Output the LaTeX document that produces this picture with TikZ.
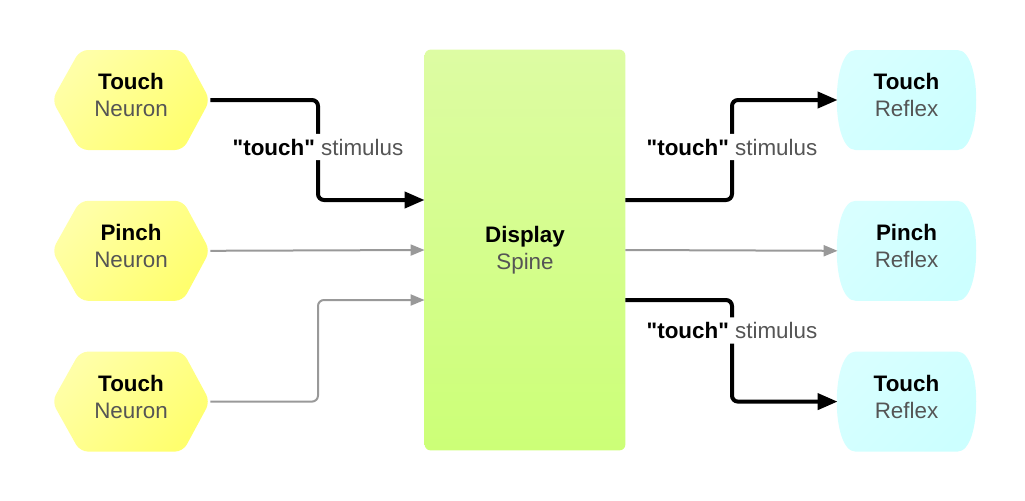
\documentclass[tikz,border=0pt]{standalone}
\usepackage{fontspec}
\setmainfont{Liberation Sans}[Ligatures=TeXOff]
\usepackage{xcolor}
\usetikzlibrary{arrows.meta,positioning,backgrounds}

\definecolor{txtgray}{HTML}{555555}
\definecolor{linegray}{HTML}{999999}
\definecolor{hexlight}{HTML}{FFFFA8}
\definecolor{hexdark}{HTML}{FFFF6E}
\definecolor{spinetop}{HTML}{DDFCA3}
\definecolor{spinebot}{HTML}{CCFF77}
\definecolor{reflexlight}{HTML}{D8FFFF}
\definecolor{reflexdark}{HTML}{CCFFFF}

\newcommand{\twoline}[2]{\textbf{#1}\\\textcolor{txtgray}{#2}}
\newcommand{\stimtext}{\textbf{"touch"} \textcolor{txtgray}{stimulus}}

\begin{document}
\begin{tikzpicture}[x=0.5pt,y=-0.5pt,font=\fontsize{11.2}{13.5}\selectfont,
                    node distance=25pt]
  \tikzstyle{box}=[inner sep=0pt,align=center]
  \tikzstyle{neuron}=[box,minimum width=79pt,minimum height=50pt,text depth=5pt]
  \tikzstyle{reflex}=[box,minimum width=68.5pt,minimum height=50pt,text depth=5pt]
  \tikzstyle{strong}=[line width=2pt,rounded corners=3pt,-{Triangle[length=10pt,width=8pt]}]
  \tikzstyle{weak}=[linegray,line width=1pt,rounded corners=3pt,-{Triangle[length=7pt,width=5.5pt]}]
  \tikzstyle{stim}=[fill=white,inner xsep=1pt,inner ysep=2.5pt]

  \useasboundingbox (0,0) rectangle (1025,500);

  \node[neuron] (tn1) at (131,100)  {\twoline{Touch}{Neuron}};
  \node[neuron] (pn)  [below=of tn1] {\twoline{Pinch}{Neuron}};
  \node[neuron] (tn2) [below=of pn]  {\twoline{Touch}{Neuron}};

  \node[box,minimum width=100pt,minimum height=200pt] (sp) at (525,250)
       {\twoline{Display}{Spine}};

  \node[reflex] (tr1) at (906.5,100) {\twoline{Touch}{Reflex}};
  \node[reflex] (pr)  [below=of tr1] {\twoline{Pinch}{Reflex}};
  \node[reflex] (tr2) [below=of pr]  {\twoline{Touch}{Reflex}};

  \begin{scope}[on background layer]
    \foreach \n in {tn1,pn,tn2}
      \shade[shift={(\n)},top color=hexlight,bottom color=hexdark,shading angle=45,
             rounded corners=4pt]
        (-79,0) -- (-51,-50) -- (52,-50) -- (79,0) -- (52,50) -- (-51,50) -- cycle;
    \shade[top color=spinetop,bottom color=spinebot,rounded corners=3pt]
      (sp.north west) rectangle (sp.south east);
    \foreach \n in {tr1,pr,tr2}
      \shade[shift={(\n)},top color=reflexlight,bottom color=reflexdark,shading angle=45]
        (-51,-50) -- (51,-50) .. controls (76,-50) and (76,50) .. (51,50)
        -- (-51,50) .. controls (-76,50) and (-76,-50) .. (-51,-50) -- cycle;
  \end{scope}

  % bends and ports
  \coordinate (jl) at (318,0);
  \coordinate (jr) at (732,0);
  \coordinate (si1) at ([yshift=25pt]sp.west);
  \coordinate (si3) at ([yshift=-25pt]sp.west);
  \coordinate (so1) at ([yshift=25pt]sp.east);
  \coordinate (so3) at ([yshift=-25pt]sp.east);

  \draw[strong] (tn1.east) -- (tn1.east -| jl) -- node[stim,pos=0.47]{\stimtext} (jl |- si1) -- (si1);
  \draw[weak] (pn.east) -- (sp.west);
  \draw[weak] (tn2.east) -- (tn2.east -| jl) -- (jl |- si3) -- (si3);

  \draw[strong] (so1) -- (jr |- so1) -- node[stim,pos=0.53]{\stimtext} (jr |- tr1.west) -- (tr1.west);
  \draw[weak] (sp.east) -- (pr.west);
  \draw[strong] (so3) -- (jr |- so3) -- node[stim,pos=0.3]{\stimtext} (jr |- tr2.west) -- (tr2.west);
\end{tikzpicture}
\end{document}
